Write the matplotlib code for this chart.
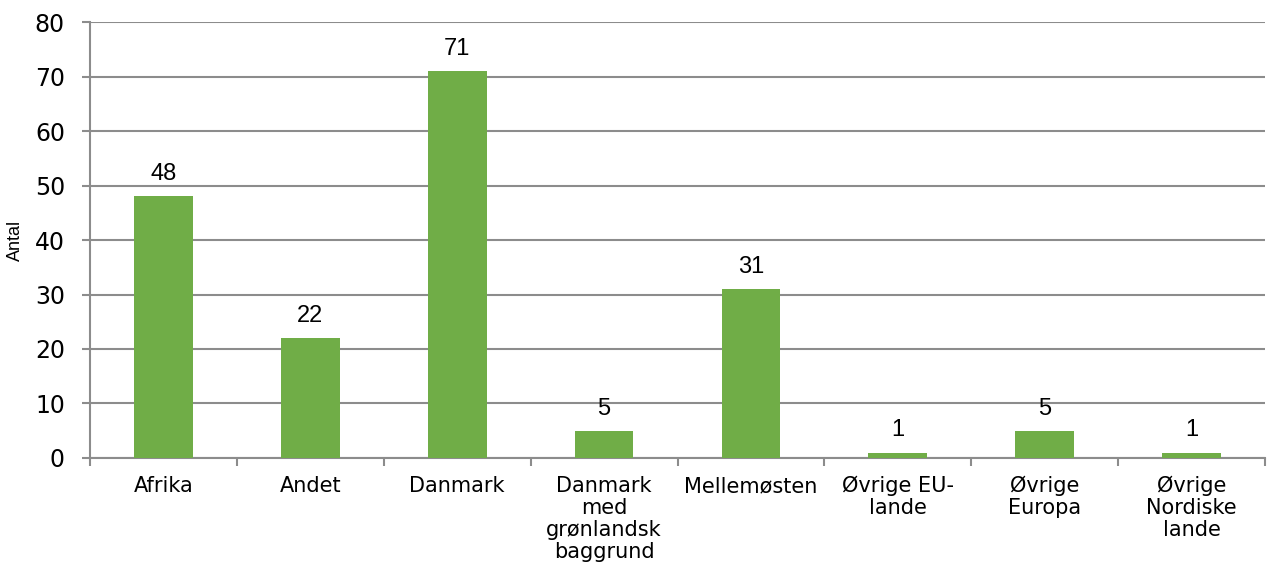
import matplotlib.pyplot as plt
import numpy as np

categories = ['Afrika', 'Andet', 'Danmark', 'Danmark\nmed\ngrønlandsk\nbaggrund',
              'Mellemøsten', 'Øvrige EU-\nlande', 'Øvrige\nEuropa', 'Øvrige\nNordiske\nlande']
values = [48, 22, 71, 5, 31, 1, 5, 1]
yticks = [0, 10, 20, 30, 40, 50, 60, 70, 80]

if __name__ == '__main__':
    fig = plt.figure(figsize=(12.74, 5.75), dpi=100)
    ax = fig.add_axes([0.0706, 0.2035, 0.9224, 0.7582])

    x = np.arange(len(categories))
    bars = ax.bar(x, values, width=0.4, color='#70AD47', zorder=3)

    ax.set_xlim(-0.5, len(categories) - 0.5)
    ax.set_ylim(0, 80)
    ax.set_yticks(yticks)
    ax.set_yticklabels([str(v) for v in yticks], fontsize=17, family='DejaVu Sans')
    ax.yaxis.grid(True, color='#8c8c8c', linewidth=1.5, zorder=0)

    ax.set_xticks(x)
    ax.set_xticklabels(categories, fontsize=15, family='DejaVu Sans', linespacing=1.12)
    ax.tick_params(axis='x', which='major', length=0, pad=13)
    ax.set_xticks(np.arange(len(categories) + 1) - 0.5, minor=True)
    ax.tick_params(axis='x', which='minor', length=6, width=1.5, color='#8c8c8c')
    ax.tick_params(axis='y', length=6, width=1.5, color='#8c8c8c', pad=12)

    for b, v in zip(bars, values):
        ax.annotate(str(v), (b.get_x() + b.get_width() / 2, v), xytext=(0, 8),
                    textcoords='offset points', ha='center', va='bottom',
                    fontsize=17, family='Liberation Sans')

    for side in ['top', 'right']:
        ax.spines[side].set_visible(False)
    for side in ['left', 'bottom']:
        ax.spines[side].set_color('#8c8c8c')
        ax.spines[side].set_linewidth(1.5)

    ax.set_ylabel('Antal', fontsize=13, family='Liberation Sans', labelpad=8)

    fig.savefig('out.png', dpi=100)
